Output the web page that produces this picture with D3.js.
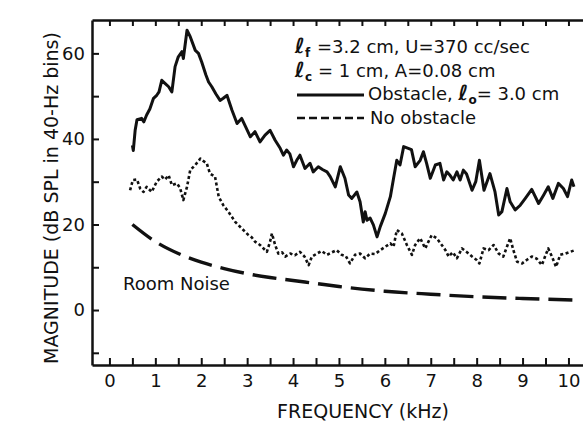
<!DOCTYPE html>
<html>
<head>
<meta charset="utf-8">
<script src="https://cdn.jsdelivr.net/npm/d3@7"></script>
<style>
  body { margin: 0; background: #fff; }
  svg { display: block; font-family: "DejaVu Sans", sans-serif; }
  .axis path, .axis line { stroke: #111; }
  .axis text { font-family: "DejaVu Sans", sans-serif; font-size: 18px; fill: #111; }
</style>
</head>
<body>
<svg id="chart"></svg>
<script>
// Obstacle curve (solid)
const obstacleFreq = [0.50, 0.52, 0.56, 0.60, 0.70, 0.75, 0.81, 0.88, 0.96, 1.03, 1.08, 1.14, 1.21, 1.29, 1.36, 1.43, 1.50, 1.58, 1.61, 1.69, 1.76, 1.87, 1.94, 2.01, 2.10, 2.16, 2.23, 2.32, 2.41, 2.48, 2.56, 2.67, 2.78, 2.88, 2.96, 3.07, 3.17, 3.28, 3.39, 3.50, 3.61, 3.72, 3.79, 3.86, 3.93, 4.01, 4.08, 4.15, 4.26, 4.37, 4.44, 4.55, 4.65, 4.74, 4.81, 4.92, 5.03, 5.13, 5.21, 5.28, 5.39, 5.46, 5.53, 5.57, 5.61, 5.68, 5.75, 5.83, 5.90, 6.01, 6.12, 6.19, 6.26, 6.33, 6.41, 6.51, 6.58, 6.66, 6.77, 6.84, 6.91, 6.99, 7.10, 7.20, 7.28, 7.35, 7.42, 7.49, 7.57, 7.64, 7.71, 7.78, 7.90, 7.98, 8.06, 8.16, 8.29, 8.40, 8.48, 8.55, 8.66, 8.73, 8.84, 8.95, 9.06, 9.20, 9.35, 9.46, 9.56, 9.66, 9.78, 9.89, 9.98, 10.07, 10.12];
const obstacleDb = [38.5, 37.3, 42, 44.5, 44.8, 44, 45.6, 47, 49.5, 50.2, 51, 53.7, 53, 52.2, 51, 56.9, 59.2, 60.4, 58.8, 65.4, 63.9, 60.7, 60, 58, 55, 53.3, 52.2, 50.5, 49, 49.5, 50.2, 46.7, 43.6, 44.8, 43, 40.5, 41.7, 39.3, 40.9, 42, 39.7, 37.8, 36.2, 37.4, 36.5, 33.5, 35, 36.2, 33.1, 34.3, 32.3, 33.5, 32.8, 32.3, 31.2, 28.8, 33.5, 30.8, 26.9, 26.1, 27.6, 25.3, 20.6, 23, 21, 21.5, 19.9, 17.1, 19.5, 22.6, 26.5, 30.8, 35, 33.9, 38.2, 37.8, 37.5, 33.5, 35, 37, 34.3, 30.8, 33.9, 34.3, 30.4, 32.3, 31.5, 30.4, 32.3, 30.4, 32.7, 31.8, 28, 30, 35, 28, 31.9, 27.6, 22.2, 23, 28.4, 25.3, 23.4, 24.5, 26.1, 28.2, 24.9, 26.9, 28.8, 26.1, 29.6, 28.4, 26.5, 30.4, 28.8];

// No obstacle curve (dotted)
const noObstacleFreq = [0.45, 0.51, 0.60, 0.67, 0.74, 0.81, 0.92, 1.03, 1.14, 1.21, 1.29, 1.36, 1.47, 1.54, 1.61, 1.69, 1.76, 1.87, 1.98, 2.05, 2.12, 2.19, 2.30, 2.38, 2.48, 2.59, 2.74, 2.88, 3.03, 3.10, 3.17, 3.28, 3.43, 3.50, 3.54, 3.61, 3.68, 3.76, 3.83, 3.94, 4.04, 4.15, 4.25, 4.34, 4.41, 4.52, 4.62, 4.74, 4.85, 4.95, 5.06, 5.15, 5.24, 5.35, 5.46, 5.57, 5.68, 5.79, 5.90, 6.01, 6.12, 6.19, 6.26, 6.37, 6.48, 6.59, 6.66, 6.77, 6.88, 6.95, 7.02, 7.13, 7.24, 7.32, 7.39, 7.48, 7.57, 7.68, 7.79, 7.90, 8.00, 8.06, 8.15, 8.26, 8.37, 8.48, 8.58, 8.66, 8.73, 8.80, 8.88, 8.99, 9.09, 9.20, 9.31, 9.42, 9.49, 9.56, 9.64, 9.73, 9.82, 9.93, 10.04, 10.14];
const noObstacleDb = [28, 30.4, 30.5, 28.4, 27.6, 28.8, 27.6, 30, 31.2, 30.5, 31.5, 29.2, 29.6, 28.5, 25.7, 28.8, 32.7, 33.9, 35.4, 34.8, 34.3, 31.9, 31.2, 26.5, 24.5, 23, 20.6, 19.1, 17.5, 17, 16, 15.2, 13.6, 16, 17.9, 15.2, 13.2, 13.5, 12.5, 13.2, 12.8, 13.6, 12.5, 10.5, 12.5, 13.2, 13.8, 12.9, 13.5, 14, 12.9, 12.6, 10.9, 12.9, 13.2, 12.1, 13.2, 13.1, 14, 14.8, 15.6, 14.8, 18.7, 17.9, 15.2, 12.9, 15.2, 16.8, 14.4, 16, 17.5, 16.8, 15.2, 14, 12.5, 13.5, 12.1, 14.4, 13.5, 12.5, 11.7, 10.9, 14.4, 14, 15.2, 13.2, 12.5, 14.8, 16.8, 14, 11.3, 10.9, 11.7, 12.5, 12, 10.5, 12.5, 14.4, 12.5, 10.1, 12.9, 13.2, 13.6, 14];

// Room noise (long dashes)
const noiseFreq = [0.5, 1, 1.5, 2, 2.5, 3, 3.5, 4, 4.5, 5, 5.5, 6, 7, 8, 9, 10.2];
const noiseDb = [20, 16, 13.2, 11.2, 9.7, 8.5, 7.6, 6.9, 6.2, 5.5, 4.9, 4.4, 3.7, 3.1, 2.7, 2.3];

const xMinorTicks = d3.range(0, 10.01, 0.5);
const yTicks = [-10, 0, 10, 20, 30, 40, 50, 60];
const yLabels = [0, 20, 40, 60];

const W = 583, H = 421;
const margin = { top: 20, left: 92 };
const width = 504;   // runs past the right edge of the page, like the scan
const height = 345;

const svg = d3.select("#chart").attr("width", W).attr("height", H);
const g = svg.append("g").attr("transform", `translate(${margin.left},${margin.top})`);

const x = d3.scaleLinear().domain([-0.38, 10.6]).range([0, width]);
const y = d3.scaleLinear().domain([-12.85, 67.8]).range([height, 0]);

// axes (ticks point inwards)
g.append("g")
    .attr("class", "axis")
    .attr("transform", `translate(0,${height})`)
    .call(d3.axisBottom(x).tickValues(xMinorTicks).tickSize(-7).tickSizeOuter(0).tickPadding(9)
        .tickFormat(d => Number.isInteger(d) ? d : ""));

g.append("g")
    .attr("class", "axis")
    .call(d3.axisTop(x).tickValues(xMinorTicks).tickSize(-6).tickSizeOuter(0).tickFormat(""));

g.append("g")
    .attr("class", "axis")
    .call(d3.axisLeft(y).tickValues(yTicks).tickSize(-7).tickSizeOuter(0).tickPadding(7)
        .tickFormat(d => yLabels.includes(d) ? d : ""));

g.selectAll(".axis path").attr("stroke-width", 2.5);
g.selectAll(".axis line").attr("stroke-width", 2);

// curves
const jagged = d3.line().x(d => x(d[0])).y(d => y(d[1]));
const smooth = d3.line().x(d => x(d[0])).y(d => y(d[1])).curve(d3.curveMonotoneX);

const series = [
    { f: obstacleFreq, v: obstacleDb, gen: jagged, width: 3, dash: null },
    { f: noObstacleFreq, v: noObstacleDb, gen: jagged, width: 2.6, dash: "3,2.5" },
    { f: noiseFreq, v: noiseDb, gen: smooth, width: 3.4, dash: "24,9" }
];

series.forEach(s => {
    g.append("path")
        .datum(d3.zip(s.f, s.v))
        .attr("d", s.gen)
        .attr("fill", "none")
        .attr("stroke", "#111")
        .attr("stroke-width", s.width)
        .attr("stroke-linejoin", "round")
        .attr("stroke-dasharray", s.dash);
});

// axis titles
svg.append("text")
    .attr("x", 363)
    .attr("y", 418)
    .attr("text-anchor", "middle")
    .style("font-size", "19px")
    .attr("fill", "#111")
    .text("FREQUENCY (kHz)");

svg.append("text")
    .attr("transform", "translate(58,198) rotate(-90)")
    .attr("text-anchor", "middle")
    .style("font-size", "19px")
    .attr("fill", "#111")
    .text("MAGNITUDE (dB SPL in 40-Hz bins)");

svg.append("text")
    .attr("x", 123)
    .attr("y", 290)
    .style("font-size", "18px")
    .attr("fill", "#111")
    .text("Room Noise");

// legend block
const legend = svg.append("g").style("font-size", "18px").attr("fill", "#111");

function ell(el, sub) {
    el.append("tspan").style("font-size", "21px").style("font-weight", "bold").text("\u2113");
    el.append("tspan").attr("dy", 4).style("font-size", "12px").style("font-weight", "bold").text(sub);
}

const l1 = legend.append("text").attr("x", 295).attr("y", 53);
ell(l1, "f");
l1.append("tspan").attr("x", 317).attr("dy", -4).text("=3.2 cm, U=370 cc/sec");

const l2 = legend.append("text").attr("x", 295).attr("y", 77);
ell(l2, "c");
l2.append("tspan").attr("x", 318).attr("dy", -4).text("= 1 cm, A=0.08 cm");

legend.append("line")
    .attr("x1", 297).attr("x2", 364).attr("y1", 95).attr("y2", 95)
    .attr("stroke", "#111").attr("stroke-width", 3);
const l3 = legend.append("text").attr("x", 368).attr("y", 100);
l3.append("tspan").text("Obstacle, ");
ell(l3, "o");
l3.append("tspan").attr("dy", -4).text("= 3.0 cm");

legend.append("line")
    .attr("x1", 297).attr("x2", 364).attr("y1", 118).attr("y2", 118)
    .attr("stroke", "#111").attr("stroke-width", 2.6).attr("stroke-dasharray", "8,4");
legend.append("text").attr("x", 370).attr("y", 124).text("No obstacle");
</script>
</body>
</html>
